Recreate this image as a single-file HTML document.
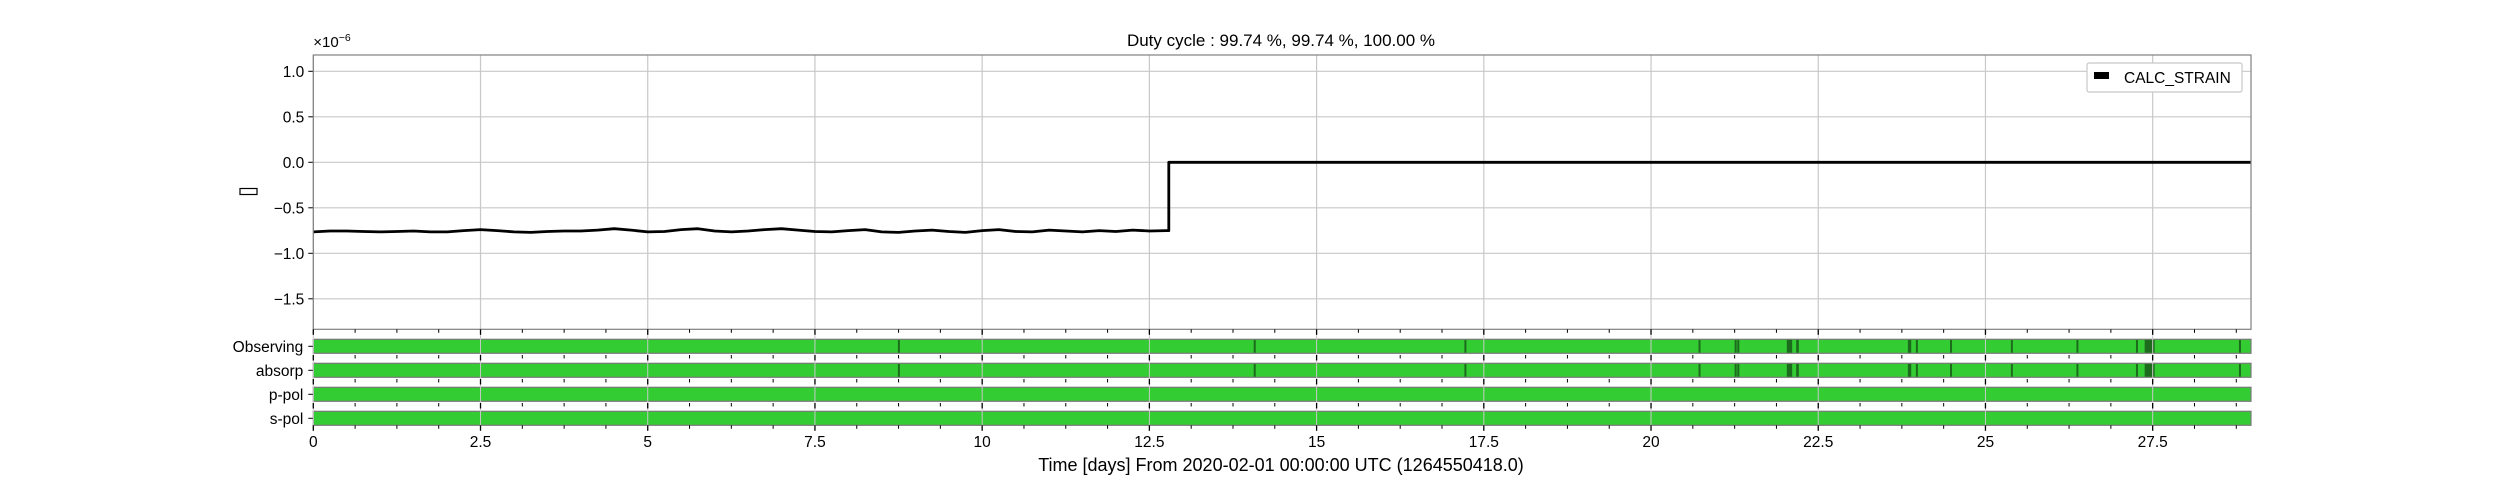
<!DOCTYPE html>
<html><head><meta charset="utf-8"><style>
html,body{margin:0;padding:0;background:#fff;}
svg{display:block;font-family:"Liberation Sans",sans-serif;}
</style></head><body>
<svg id="chart" width="2500" height="500" viewBox="0 0 2500 500">
<text x="1281" y="46" font-size="17" text-anchor="middle" fill="#000">Duty cycle : 99.74 %, 99.74 %, 100.00 %</text>
<g id="main"></g>
<g id="seg"></g>
<text x="1281" y="471" font-size="18" text-anchor="middle" fill="#000">Time [days] From 2020-02-01 00:00:00 UTC (1264550418.0)</text>
</svg>
<script>
// ---- data ----
const strainDays = [0,0.25,0.5,0.75,1,1.25,1.5,1.75,2,2.25,2.5,2.75,3,3.25,3.5,3.75,4,4.25,4.5,4.75,5,5.25,5.5,5.75,6,6.25,6.5,6.75,7,7.25,7.5,7.75,8,8.25,8.5,8.75,9,9.25,9.5,9.75,10,10.25,10.5,10.75,11,11.25,11.5,11.75,12,12.25,12.5,12.75,12.79];
const strainValues = [-0.765,-0.755,-0.755,-0.76,-0.765,-0.76,-0.755,-0.765,-0.765,-0.75,-0.74,-0.75,-0.765,-0.77,-0.76,-0.755,-0.755,-0.745,-0.73,-0.745,-0.765,-0.76,-0.74,-0.73,-0.755,-0.765,-0.755,-0.74,-0.73,-0.745,-0.76,-0.765,-0.75,-0.74,-0.765,-0.77,-0.755,-0.745,-0.76,-0.77,-0.75,-0.74,-0.76,-0.765,-0.745,-0.755,-0.765,-0.75,-0.76,-0.745,-0.755,-0.75,-0.75];
const stepDay = 12.79;
const afterValue = 0.0;
const yTicks = [1.0,0.5,0.0,-0.5,-1.0,-1.5];
const yTickLabels = ["1.0","0.5","0.0","\u22120.5","\u22121.0","\u22121.5"];
const xTicks = [0,2.5,5,7.5,10,12.5,15,17.5,20,22.5,25,27.5];
const xTickLabels = ["0","2.5","5","7.5","10","12.5","15","17.5","20","22.5","25","27.5"];
const segRows = ["Observing","absorp","p-pol","s-pol"];
const gapsObserving = [[8.74,8.76],[14.06,14.08],[17.21,17.23],[20.71,20.73],[21.25,21.27],[21.29,21.31],[22.03,22.11],[22.17,22.21],[23.84,23.89],[23.96,23.98],[24.47,24.49],[25.38,25.40],[26.36,26.38],[27.25,27.27],[27.38,27.53],[28.79,28.81]];
const gapsAbsorp = [[8.74,8.76],[14.06,14.08],[17.21,17.23],[20.71,20.73],[21.25,21.27],[21.29,21.31],[22.03,22.11],[22.17,22.21],[23.84,23.89],[23.96,23.98],[24.47,24.49],[25.38,25.40],[26.36,26.38],[27.25,27.27],[27.38,27.53],[28.79,28.81]];
const gapsPpol = [];
const gapsSpol = [];
const segGaps = [gapsObserving,gapsAbsorp,gapsPpol,gapsSpol];

// ---- layout ----
const NS="http://www.w3.org/2000/svg";
const L=313.3,R=2251,T=55,B=329.3;
const xMin=0,xMax=28.97;
const X=d=>L+(d-xMin)/(xMax-xMin)*(R-L);
const Y=v=>162.3-v*91;
function mk(tag,attrs,parent){const e=document.createElementNS(NS,tag);for(const k in attrs)e.setAttribute(k,attrs[k]);parent.appendChild(e);return e;}
const main=document.getElementById('main');
const seg=document.getElementById('seg');

// grid
xTicks.forEach((t,i)=>{const g=mk('line',{x1:X(t),x2:X(t),y1:T,y2:B,stroke:'#c8c8c8','stroke-width':1.2},main);

});
yTicks.forEach((t,i)=>{const g=mk('line',{x1:L,x2:R,y1:Y(t),y2:Y(t),stroke:'#c8c8c8','stroke-width':1.2},main);


const tk=mk('line',{x1:L-5,x2:L,y1:Y(t),y2:Y(t),stroke:'#000','stroke-width':1},main);


const tl=mk('text',{x:L-9,y:Y(t)+5.5,'font-size':15.5,'text-anchor':'end',fill:'#000'},main);
tl.textContent=yTickLabels[i];

});

// series
let d='';
strainDays.forEach((t,i)=>{d+=(i?'L':'M')+X(t).toFixed(1)+','+Y(strainValues[i]).toFixed(1);});
d+='L'+X(stepDay).toFixed(1)+','+Y(afterValue)+'L'+X(xMax)+','+Y(afterValue);
const line=mk('path',{d:d,fill:'none',stroke:'#000','stroke-width':2.8,'stroke-linejoin':'round'},main);



// frame
const fr=mk('rect',{x:L,y:T,width:R-L,height:B-T,fill:'none',stroke:'#808080','stroke-width':1.2},main);


const mult=mk('text',{x:L,y:47,'font-size':15,fill:'#000'},main);
mult.textContent='\u00d710';


const sup=mk('tspan',{dy:-6,'font-size':10.5},mult);sup.textContent='\u22126';
const ul=mk('rect',{x:240,y:188.5,width:17,height:6,fill:'none',stroke:'#000','stroke-width':1.2},main);



// legend
const lg=mk('g',{},main);


mk('rect',{x:2087,y:63,width:155,height:29,rx:2,fill:'#fff',stroke:'#c8c8c8','stroke-width':1.2},lg);
const lp=mk('rect',{x:2094,y:72,width:15,height:7,fill:'#000'},lg);


const lt=mk('text',{x:2124,y:83,'font-size':15.5,fill:'#000'},lg);
lt.textContent='CALC_STRAIN';



// segment rows
const rowTop=[339.3,363.3,387.3,411.3],rowH=14;
segRows.forEach((name,r)=>{
 const y0=rowTop[r];
 const bar=mk('rect',{x:L,y:y0,width:R-L,height:rowH,fill:'#33cc33',stroke:'#7a7a7a','stroke-width':1.2},seg);
 
 
 segGaps[r].forEach(g=>{const w=Math.max(2,X(g[1])-X(g[0]));
  const gr=mk('rect',{x:X(g[0]),y:y0+0.6,width:w,height:rowH-1.2,fill:'#1d6b1d'},seg);
  
  });
 const lb=mk('text',{x:L-10,y:y0+rowH/2+5.5,'font-size':15.5,'text-anchor':'end',fill:'#000'},seg);
 lb.textContent=name;
 
 
 mk('line',{x1:L-5,x2:L,y1:y0+rowH/2,y2:y0+rowH/2,stroke:'#000','stroke-width':1},seg);
});
// gridlines over segment panel
xTicks.forEach(t=>{const g=mk('line',{x1:X(t),x2:X(t),y1:329.3,y2:425.3,stroke:'#c8c8c8','stroke-width':1},seg);

});
// ticks
const tickRows=[329.3,355,379,403,425.3];
tickRows.forEach(yb=>{
 for(let t=0;t<=xMax+1e-6;t+=0.625){const major=Math.abs(t/2.5-Math.round(t/2.5))<1e-6;
  mk('line',{x1:X(t),x2:X(t),y1:yb,y2:yb+(major?5.5:3.5),stroke:'#000','stroke-width':major?1.3:1},seg);}
});
xTicks.forEach((t,i)=>{const tl=mk('text',{x:X(t),y:447,'font-size':15.5,'text-anchor':'middle',fill:'#000'},seg);
tl.textContent=xTickLabels[i];

});
</script>
</body></html>
